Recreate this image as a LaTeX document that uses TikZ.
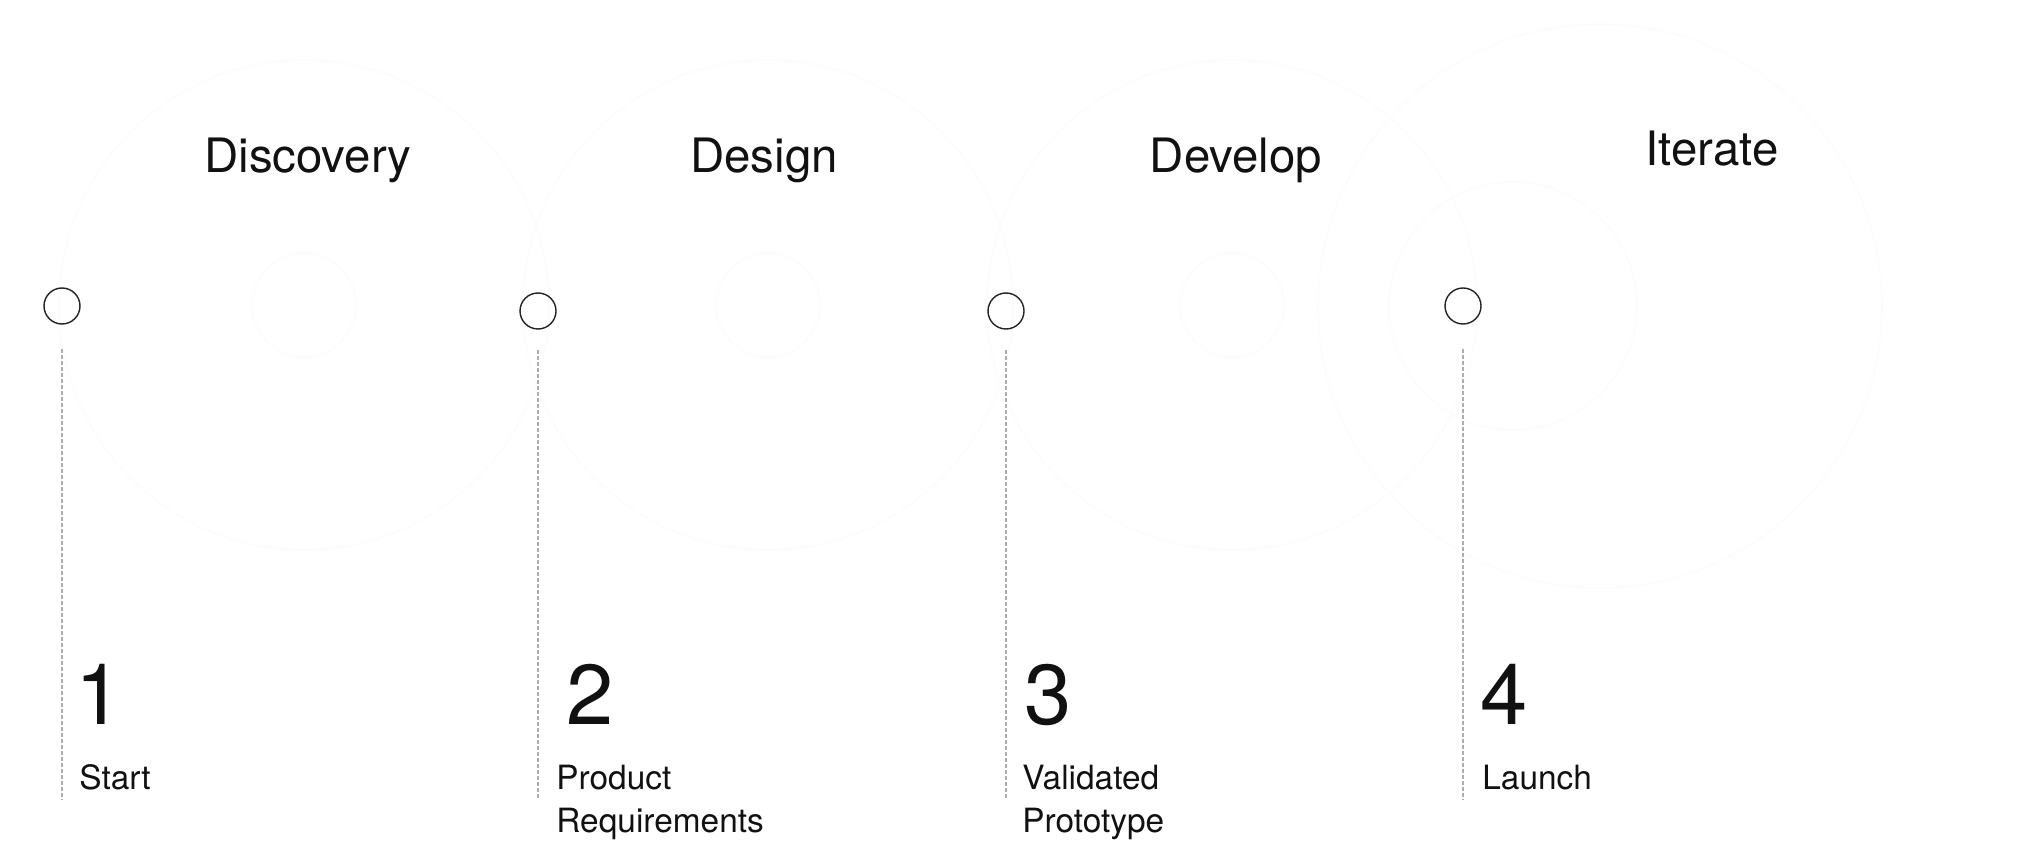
\documentclass[tikz,border=0pt]{standalone}
\usepackage{fontspec}
\setmainfont{TeX Gyre Heros}
\usepackage{tikz}
\definecolor{ink}{HTML}{111111}
\definecolor{dotline}{HTML}{222222}
\definecolor{guidegray}{HTML}{AEAEAE}
\definecolor{ghost}{HTML}{FCFCFC}
\tikzset{
dot/.style={
		circle,
		draw=dotline,
		line width=0.7pt,
		minimum size=18pt,
		inner sep=0pt
	},
guide/.style={
		draw=guidegray,
		line width=1.1pt,
		dash pattern=on 2pt off 1pt
	},
ghostring/.style={
		draw=ghost,
		line width=0.8pt
	},
phase/.style={
		text=ink,
		inner sep=0pt,
		anchor=base,
		font=\fontsize{23.7}{28}\selectfont
	},
stepnum/.style={
		text=ink,
		inner sep=0pt,
		anchor=base west,
		font=\fontsize{42.5}{48}\selectfont
	},
steplabel/.style={
		text=ink,
		inner sep=0pt,
		anchor=base west,
		align=left,
		font=\fontsize{16.7}{21.5}\selectfont
	}
}
\begin{document}
\begin{tikzpicture}[x=0.5pt,y=-0.5pt]
			\useasboundingbox (0,0) rectangle (2018,844);
			% faint rings behind the phases
			\draw[ghostring] (304,305) circle[radius=122.5pt];
			\draw[ghostring] (304,305) circle[radius=26pt];
			\draw[ghostring] (768,305) circle[radius=122.5pt];
			\draw[ghostring] (768,305) circle[radius=26pt];
			\draw[ghostring] (1232,305) circle[radius=122.5pt];
			\draw[ghostring] (1232,305) circle[radius=26pt];
			\draw[ghostring] (1600,306) circle[radius=141pt];
			\draw[ghostring] (1513,306) circle[radius=62pt];
			% phases
			\node[phase] (discovery) at (308,173) {Discovery};
			\node[phase] (design) at (764,173) {Design};
			\node[phase] (develop) at (1236,173) {Develop};
			\node[phase] (iterate) at (1712,166) {Iterate};
			% milestones
			\node[dot] (dot1) at (62,306) {};
			\node[dot] (dot2) at (538,311) {};
			\node[dot] (dot3) at (1006,311) {};
			\node[dot] (dot4) at (1463,306) {};
			\coordinate (foot1) at (61,799);
			\coordinate (foot2) at (539,799);
			\coordinate (foot3) at (1007,799);
			\coordinate (foot4) at (1463,799);
			\draw[guide, shorten <=12pt] (dot1.south) -- (dot1.south |- foot1);
			\draw[guide, shorten <=10pt] (dot2.south) -- (dot2.south |- foot2);
			\draw[guide, shorten <=10pt] (dot3.south) -- (dot3.south |- foot3);
			\draw[guide, shorten <=12pt] (dot4.south) -- (dot4.south |- foot4);
			\node[stepnum] (num1) at (75,724) {1};
			\node[stepnum] (num2) at (566,724) {2};
			\node[stepnum] (num3) at (1024,724) {3};
			\node[stepnum] (num4) at (1480,724) {4};
			% two-line labels sit on the baseline of their last line
			\node[steplabel] (label1) at (79,789) {Start};
			\node[steplabel] (label2) at (556,832) {Product\\Requirements};
			\node[steplabel] (label3) at (1022,832) {Validated\\Prototype};
			\node[steplabel] (label4) at (1482,789) {Launch};
\end{tikzpicture}
\end{document}
